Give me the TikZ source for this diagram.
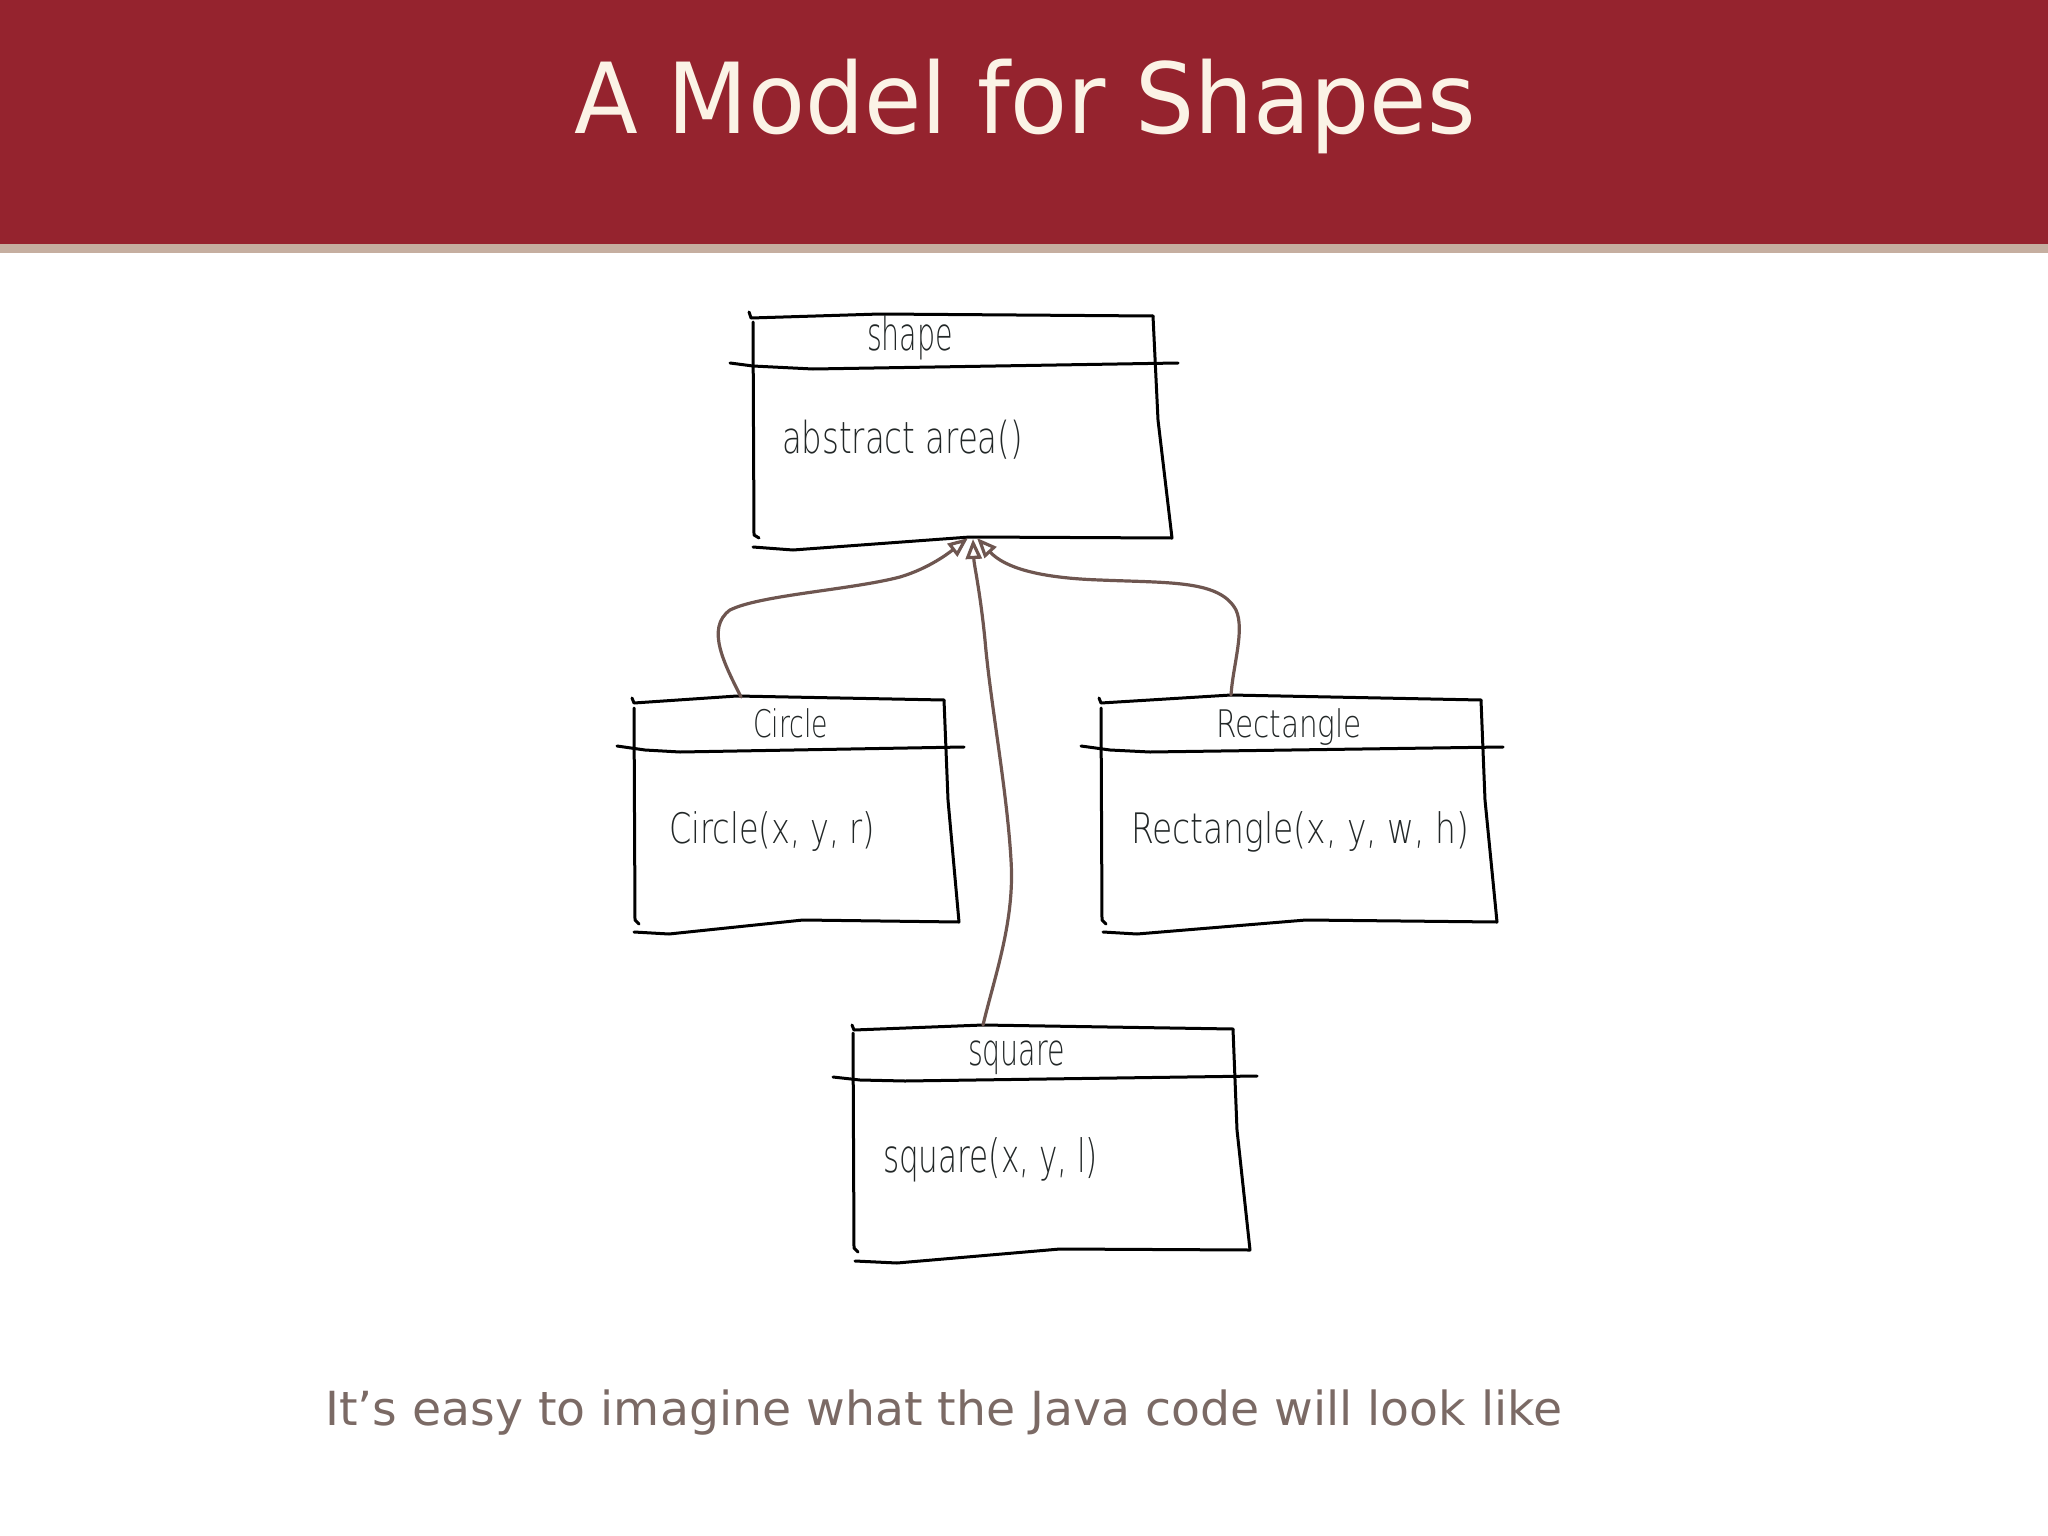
\documentclass[tikz,border=0pt]{standalone}
\usepackage{fontspec}
\usepackage{graphicx}
\setmainfont{DejaVu Sans}
\newfontfamily\handfont{DejaVuSans-ExtraLight.ttf}
\usetikzlibrary{arrows.meta}
\definecolor{hdrred}{HTML}{95232E}
\definecolor{hdrstripe}{HTML}{C5AEA0}
\definecolor{titlecream}{HTML}{FBF3E6}
\definecolor{subgrey}{HTML}{7B6A65}
\definecolor{inkdark}{HTML}{222727}
\definecolor{conn}{HTML}{6E5650}
\newcommand{\handtext}[3]{\resizebox{#1pt}{\height}{\handfont\fontsize{#2}{#2}\selectfont #3}}
\begin{document}
\begin{tikzpicture}[x=1pt,y=-1pt,
  boxline/.style={draw=black, line width=3pt, line join=round, line cap=round},
  hwlabel/.style={inner sep=0pt, outer sep=0pt, text=inkdark, anchor=base west},
  inh/.style={draw=conn, line width=3.2pt, line cap=round,
    -{Triangle[open, length=20pt, width=16pt]}}]
\useasboundingbox (0,0) rectangle (2048,1536);
% header
\fill[hdrred] (0,0) rectangle (2048,244);
\fill[hdrstripe] (0,244) rectangle (2048,253);
\node[inner sep=0pt, anchor=base, text=titlecream] (title) at (1025,134)
  {\resizebox{901pt}{\height}{\fontsize{98}{110}\selectfont A Model for Shapes}};
% shape box
\draw[boxline] (749,312) -- (751,318) -- (880,314) -- (1153,316);
\draw[boxline] (753,322) -- (754,535) -- (759,538);
\draw[boxline] (1153,316) -- (1158,420) -- (1172,538) -- (970,537) -- (793,550) -- (753,547);
\draw[boxline] (730,363) -- (753,366) -- (813,369) -- (1178,363);
\coordinate (shapeL) at (968,538);
\coordinate (shapeM) at (973,539);
\coordinate (shapeR) at (977,538);
\node[hwlabel] (shapeT) at (867,350) {\handtext{86}{46}{shape}};
\node[hwlabel] (shapeB) at (782,453) {\handtext{241}{44}{abstract area()}};
% circle box
\draw[boxline] (632,698) -- (634,703) -- (737,696) -- (944,700);
\draw[boxline] (634,708) -- (635,920) -- (639,924);
\draw[boxline] (944,700) -- (948,800) -- (959,922) -- (803,920) -- (669,934) -- (634,932);
\draw[boxline] (617,746) -- (645,750) -- (680,752) -- (964,747);
\coordinate (circTop) at (741,697);
\node[hwlabel] (circT) at (753,737) {\handtext{75}{38}{Circle}};
\node[hwlabel] (circB) at (669,843) {\handtext{206}{42}{Circle(x, y, r)}};
% rectangle box
\draw[boxline] (1099,698) -- (1101,703) -- (1231,695) -- (1481,700);
\draw[boxline] (1101,708) -- (1102,920) -- (1106,924);
\draw[boxline] (1481,700) -- (1485,800) -- (1497,922) -- (1306,920) -- (1137,934) -- (1103,932);
\draw[boxline] (1081,746) -- (1110,750) -- (1150,752) -- (1503,747);
\coordinate (rectTop) at (1231,695);
\node[hwlabel] (rectT) at (1216,737) {\handtext{146}{38}{Rectangle}};
\node[hwlabel] (rectB) at (1131,843) {\handtext{338}{42}{Rectangle(x, y, w, h)}};
% square box
\draw[boxline] (852,1025) -- (854,1030) -- (983,1025) -- (1233,1029);
\draw[boxline] (853,1033) -- (854,1248) -- (858,1252);
\draw[boxline] (1233,1029) -- (1237,1130) -- (1250,1250) -- (1060,1249) -- (897,1263) -- (855,1261);
\draw[boxline] (833,1077) -- (860,1080) -- (905,1081) -- (1257,1076);
\coordinate (sqTop) at (983,1025);
\node[hwlabel] (sqT) at (968,1065) {\handtext{97}{44}{square}};
\node[hwlabel] (sqB) at (883,1172) {\handtext{215}{46}{square(x, y, l)}};
% inheritance connectors
\draw[inh] (circTop) .. controls (725,665) and (705,628) .. (730,610)
  .. controls (760,595) and (850,590) .. (900,577)
  .. controls (930,568) and (950,552) .. (shapeL);
\draw[inh] (rectTop) .. controls (1233,665) and (1245,630) .. (1236,610)
  .. controls (1220,580) and (1170,583) .. (1100,580)
  .. controls (1040,578) and (1005,568) .. (shapeR);
\draw[inh] (sqTop) .. controls (995,975) and (1015,920) .. (1011,860)
  .. controls (1007,790) and (990,700) .. (985,640)
  .. controls (980,590) and (974,565) .. (shapeM);
% footer text
\node[inner sep=0pt, anchor=base west, text=subgrey] (foot) at (325,1425)
  {\resizebox{1237pt}{\height}{\fontsize{47}{54}\selectfont It’s easy to imagine what the Java code will look like}};
\end{tikzpicture}
\end{document}
